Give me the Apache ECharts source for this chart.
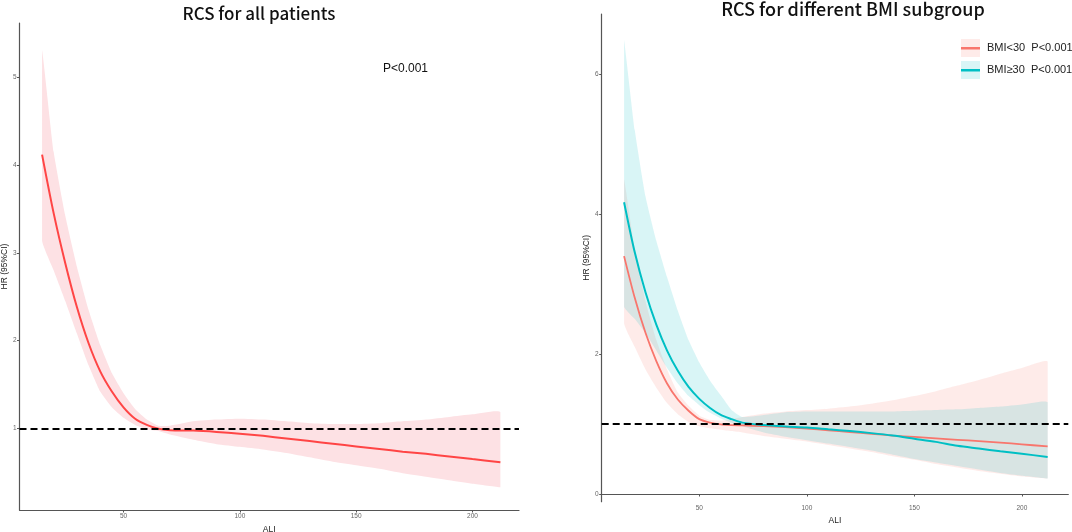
<!DOCTYPE html>
<html>
<head>
<meta charset="utf-8">
<title>RCS curves</title>
<script src="https://cdn.jsdelivr.net/npm/echarts@6.0.0/dist/echarts.min.js"></script>
<style>
  html, body { margin: 0; padding: 0; background: #fff; }
  #chart { width: 1072px; height: 532px; }
</style>
</head>
<body>
<div id="chart"></div>
<script>
// ALI values where the curves were read
const ali = [15, 20, 25, 30, 35, 40, 45, 50, 55, 60, 65, 70, 80, 90, 100, 110, 120, 130, 140, 150, 160, 170, 180, 190, 200, 212];

// all patients
const hrAll = [4.12, 3.45, 2.88, 2.38, 1.97, 1.65, 1.42, 1.24, 1.11, 1.04, 0.995, 0.98, 0.975, 0.96, 0.94, 0.915, 0.885, 0.855, 0.825, 0.795, 0.765, 0.735, 0.71, 0.68, 0.65, 0.615];
const upAll = [5.31, 4.15, 3.42, 2.84, 2.35, 1.95, 1.63, 1.4, 1.22, 1.1, 1.03, 1.03, 1.08, 1.1, 1.11, 1.1, 1.08, 1.06, 1.05, 1.05, 1.06, 1.08, 1.1, 1.13, 1.16, 1.185];
const loAll = [3.14, 2.8, 2.45, 2.08, 1.72, 1.42, 1.24, 1.12, 1.04, 0.99, 0.97, 0.93, 0.87, 0.82, 0.79, 0.76, 0.72, 0.67, 0.62, 0.58, 0.54, 0.49, 0.45, 0.41, 0.37, 0.33];

// BMI<30
const hrLow = [3.40, 2.80, 2.30, 1.90, 1.58, 1.35, 1.19, 1.07, 1.02, 0.995, 0.985, 0.98, 0.97, 0.955, 0.935, 0.91, 0.885, 0.86, 0.835, 0.815, 0.795, 0.775, 0.755, 0.735, 0.71, 0.68];
const upLow = [4.5, 3.5, 2.75, 2.2, 1.78, 1.45, 1.26, 1.12, 1.06, 1.05, 1.07, 1.1, 1.15, 1.18, 1.2, 1.22, 1.25, 1.29, 1.34, 1.4, 1.47, 1.55, 1.63, 1.72, 1.8, 1.89];
const loLow = [2.44, 2.1, 1.78, 1.52, 1.3, 1.14, 1.03, 0.97, 0.94, 0.92, 0.9, 0.88, 0.83, 0.79, 0.75, 0.7, 0.65, 0.6, 0.54, 0.49, 0.43, 0.38, 0.33, 0.29, 0.25, 0.22];

// BMI>=30
const hrHigh = [4.17, 3.45, 2.88, 2.42, 2.05, 1.76, 1.53, 1.36, 1.23, 1.13, 1.07, 1.02, 0.985, 0.965, 0.95, 0.925, 0.9, 0.87, 0.835, 0.79, 0.745, 0.69, 0.65, 0.61, 0.575, 0.53];
const upHigh = [6.49, 5.2, 4.25, 3.62, 3.1, 2.62, 2.2, 1.88, 1.62, 1.41, 1.2, 1.1, 1.13, 1.17, 1.18, 1.18, 1.18, 1.18, 1.18, 1.19, 1.2, 1.21, 1.23, 1.25, 1.28, 1.31];
const loHigh = [2.68, 2.5, 2.3, 2.05, 1.8, 1.58, 1.4, 1.27, 1.16, 1.08, 1.02, 0.97, 0.88, 0.82, 0.77, 0.72, 0.67, 0.62, 0.56, 0.5, 0.45, 0.4, 0.35, 0.3, 0.26, 0.22];

// tick labels
const xTicks = [50, 100, 150, 200];
const yTicksAll = [1, 2, 3, 4, 5];
const yTicksBmi = [0, 2, 4, 6];

const legendLow = 'BMI<30  P<0.001';
const legendHigh = 'BMI\u226530  P<0.001';

const pairs = (ys) => ali.map((x, i) => [x, ys[i]]);

// 置信带: 一个多边形, 上界正向 + 下界反向
function band(idx, lo, hi, fill, name) {
  return {
    type: 'custom', name: name, xAxisIndex: idx, yAxisIndex: idx,
    silent: true, clip: true, z: 1,
    data: ali.map((x, i) => [x, lo[i], hi[i]]),
    encode: { x: 0, y: [1, 2] },
    itemStyle: { color: fill },
    renderItem: function (params, api) {
      if (params.dataIndex !== 0) return null;
      const top = ali.map((x, i) => api.coord([x, hi[i]]));
      const bottom = ali.map((x, i) => api.coord([x, lo[i]])).reverse();
      const pts = top.concat(bottom);
      const xs = pts.map((p) => p[0]);
      const ys = pts.map((p) => p[1]);
      const box = [[Math.min(...xs), Math.min(...ys)], [Math.max(...xs), Math.max(...ys)]];
      return {
        type: 'polygon',
        shape: { points: pts, smooth: 0.15, smoothConstraint: box },
        style: { fill: fill }
      };
    }
  };
}

function curve(idx, ys, color, width, name) {
  return {
    type: 'line', name: name, xAxisIndex: idx, yAxisIndex: idx,
    data: pairs(ys), symbol: 'none', smooth: 0.3,
    itemStyle: { color: color }, lineStyle: { color: color, width: width }, z: 3
  };
}

const refLine = {
  silent: true, symbol: ['none', 'none'], label: { show: false },
  lineStyle: { color: '#000', type: [7, 4], width: 1.8 },
  data: [{ yAxis: 1 }]
};

const tickLabel = { fontSize: 6.5, color: '#666', fontFamily: 'Liberation Sans', margin: 3 };
const axisLine = { show: true, lineStyle: { color: '#555', width: 1.2 } };
const axisTick = { show: true, length: 2.5, lineStyle: { color: '#555' } };
const nameStyle = { fontSize: 8.5, color: '#222', fontFamily: 'Liberation Sans' };

function xAxis(idx, min, max) {
  return {
    type: 'value', gridIndex: idx, min: min, max: max,
    name: 'ALI', nameLocation: 'middle', nameGap: 10, nameTextStyle: nameStyle,
    axisLine: axisLine,
    axisTick: Object.assign({ customValues: xTicks }, axisTick),
    axisLabel: Object.assign({ customValues: xTicks }, tickLabel),
    splitLine: { show: false }
  };
}

function yAxis(idx, min, max, ticks, gap) {
  return {
    type: 'value', gridIndex: idx, min: min, max: max,
    name: 'HR (95%CI)', nameLocation: 'middle', nameGap: gap, nameTextStyle: nameStyle,
    axisLine: axisLine,
    axisTick: Object.assign({ customValues: ticks }, axisTick),
    axisLabel: Object.assign({ customValues: ticks }, tickLabel),
    splitLine: { show: false }
  };
}

const lowLine = curve(1, hrLow, '#F8766D', 1.8, 'BMI<30');
const highLine = curve(1, hrHigh, '#00BFC4', 2, 'BMI\u226530');
const allLine = curve(0, hrAll, '#FF4545', 2, 'all');
allLine.markLine = refLine;
highLine.markLine = refLine;

// legend line icon: thin bar inside a 19x18 box
const lineIcon = 'path://M0,0L0.01,0L0,0.01Z M0,8L19,8L19,10.4L0,10.4Z M18.99,18L19,18L19,17.99Z';

const option = {
  animation: false,
  backgroundColor: '#fff',
  title: [
    {
      text: 'RCS for all patients', left: 259, top: 5, textAlign: 'center', padding: 0,
      textStyle: { fontSize: 17, fontWeight: 500, color: '#111', fontFamily: 'Noto Sans CJK SC' }
    },
    {
      text: 'RCS for different BMI subgroup', left: 853, top: 0, textAlign: 'center', padding: 0,
      textStyle: { fontSize: 18, fontWeight: 500, color: '#111', fontFamily: 'Noto Sans CJK SC' }
    }
  ],
  legend: [
    {
      data: [
        { name: legendLow, icon: 'rect', itemStyle: { color: 'rgba(248,118,109,0.15)', borderWidth: 0 } },
        { name: legendHigh, icon: 'rect', itemStyle: { color: 'rgba(0,191,196,0.15)', borderWidth: 0 } }
      ],
      orient: 'vertical', left: 961, top: 39, padding: 0,
      itemWidth: 19, itemHeight: 18, itemGap: 4, selectedMode: false,
      textStyle: { fontSize: 11, color: '#222', fontFamily: 'Liberation Sans', padding: [0, 0, 0, 2] }
    },
    {
      data: [
        { name: 'BMI<30', icon: lineIcon, itemStyle: { color: '#F8766D', borderWidth: 0 } },
        { name: 'BMI\u226530', icon: lineIcon, itemStyle: { color: '#00BFC4', borderWidth: 0 } }
      ],
      orient: 'vertical', left: 961, top: 39, padding: 0, z: 6,
      itemWidth: 19, itemHeight: 18, itemGap: 4, selectedMode: false,
      textStyle: { fontSize: 11, color: 'rgba(0,0,0,0)' }
    }
  ],
  graphic: [
    {
      type: 'text', left: 383, top: 63,
      style: { text: 'P<0.001', fontSize: 12, fill: '#111', fontFamily: 'Liberation Sans' }
    }
  ],
  grid: [
    { left: 19.5, top: 23, width: 499.5, height: 487, outerBoundsMode: 'none' },
    { left: 601.7, top: 14, width: 466.6, height: 487.7, outerBoundsMode: 'none' }
  ],
  xAxis: [xAxis(0, 5.3, 220), xAxis(1, 4.6, 221.6)],
  yAxis: [yAxis(0, 0.07, 5.62, yTicksAll, 9), yAxis(1, -0.11, 6.86, yTicksBmi, 10)],
  series: [
    band(0, loAll, upAll, '#FDE1E4', 'allCI'),
    allLine,
    band(1, loLow, upLow, 'rgba(248,118,109,0.15)', legendLow),
    band(1, loHigh, upHigh, 'rgba(0,191,196,0.15)', legendHigh),
    lowLine,
    highLine
  ]
};

const chart = echarts.init(document.getElementById('chart'));
chart.setOption(option);
</script>
</body>
</html>
